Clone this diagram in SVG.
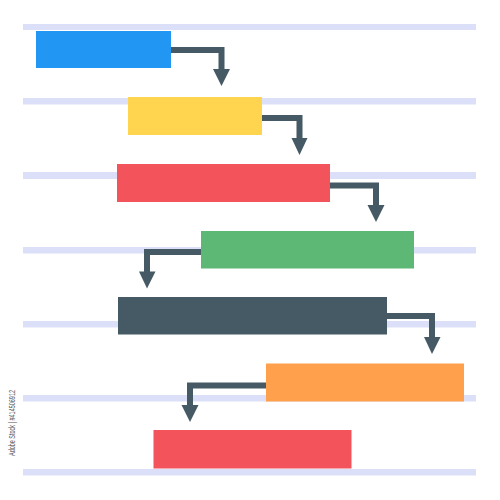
<svg xmlns="http://www.w3.org/2000/svg" width="500" height="500" viewBox="0 0 500 500">
<defs>
<style>
.grid{fill:#dcdff8}
.conn{fill:none;stroke:#455a64;stroke-width:6}
.head{fill:#455a64}
.wm{font-family:"Liberation Sans",Arial,sans-serif;font-size:9px;fill:#555555}
</style>
</defs>
<rect width="500" height="500" fill="#ffffff"/>
<g id="grid">
<rect class="grid" x="23" y="24" width="453" height="6"/>
<rect class="grid" x="23" y="98" width="453" height="6.5"/>
<rect class="grid" x="23" y="172" width="453" height="7"/>
<rect class="grid" x="23" y="247" width="453" height="6.5"/>
<rect class="grid" x="23" y="321" width="453" height="6.5"/>
<rect class="grid" x="23" y="395" width="453" height="6.5"/>
<rect class="grid" x="23" y="469" width="453" height="6.5"/>
</g>
<g id="connectors">
<path class="conn" d="M171 50 H221.5 V70"/>
<polygon class="head" points="213,69 230,69 221.5,86"/>
<path class="conn" d="M262 118 H299.5 V139"/>
<polygon class="head" points="291.5,138 307.5,138 299.5,155"/>
<path class="conn" d="M330 185.5 H376 V206"/>
<polygon class="head" points="367.5,205 384.5,205 376,222"/>
<path class="conn" d="M201 252 H147 V272"/>
<polygon class="head" points="139,271.5 155.5,271.5 147,288.5"/>
<path class="conn" d="M387 316 H432 V338"/>
<polygon class="head" points="424,337 440.5,337 432,354"/>
<path class="conn" d="M266 385.5 H190 V406"/>
<polygon class="head" points="181.5,405 198.5,405 190,422"/>
</g>
<g id="task1"><rect x="36" y="31" width="135" height="37" fill="#2196f3"/></g>
<g id="task2"><rect x="128" y="97" width="134" height="38" fill="#ffd54f"/></g>
<g id="task3"><rect x="117" y="164" width="213" height="38" fill="#f3545c"/></g>
<g id="task4"><rect x="201" y="231" width="213" height="37.5" fill="#5cb874"/></g>
<g id="task5"><rect x="118" y="297" width="269" height="37.5" fill="#455a64"/></g>
<g id="task6"><rect x="266" y="363.5" width="198" height="38" fill="#ffa04c"/></g>
<g id="task7"><rect x="153.5" y="430" width="198" height="38.5" fill="#f3545c"/></g>
<text class="wm" transform="translate(14.5,456) rotate(-90)" textLength="66" lengthAdjust="spacingAndGlyphs">Adobe Stock | #414506912</text>
</svg>
